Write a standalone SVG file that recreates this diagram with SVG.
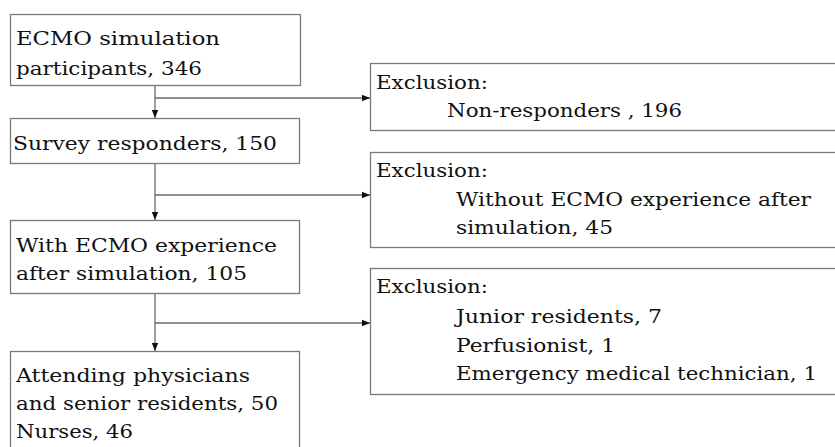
<svg xmlns="http://www.w3.org/2000/svg" width="835" height="447" viewBox="0 0 835 447">
<style>
.box{fill:#fff;stroke:#7a7a7a;stroke-width:1.3}
.t{font-family:"DejaVu Serif","Liberation Serif",serif;font-size:19px;fill:#111}
.c{fill:none;stroke:#6a6a6a;stroke-width:1.3}
</style>
<defs>
<marker id="ah" viewBox="0 0 8 8" refX="8" refY="4" markerWidth="8" markerHeight="8" markerUnits="userSpaceOnUse" orient="auto">
<path d="M0,0.8 L8,4 L0,7.2 z" fill="#111"/>
</marker>
</defs>
<g id="connectors">
<line class="c" x1="155" y1="85" x2="155" y2="118" marker-end="url(#ah)"/>
<line class="c" x1="155" y1="98" x2="370" y2="98" marker-end="url(#ah)"/>
<line class="c" x1="155" y1="163" x2="155" y2="220" marker-end="url(#ah)"/>
<line class="c" x1="155" y1="195" x2="370" y2="195" marker-end="url(#ah)"/>
<line class="c" x1="155" y1="293" x2="155" y2="351" marker-end="url(#ah)"/>
<line class="c" x1="155" y1="323" x2="370" y2="323" marker-end="url(#ah)"/>
</g>
<g id="n1">
<rect class="box" x="10.5" y="14.5" width="290" height="71"/>
<text class="t" x="16" y="45" textLength="204" lengthAdjust="spacingAndGlyphs">ECMO simulation</text>
<text class="t" x="16" y="75" textLength="186" lengthAdjust="spacingAndGlyphs">participants, 346</text>
</g>
<g id="n2">
<rect class="box" x="10.5" y="118.5" width="289" height="45"/>
<text class="t" x="13" y="150" textLength="264" lengthAdjust="spacingAndGlyphs">Survey responders, 150</text>
</g>
<g id="n3">
<rect class="box" x="10.5" y="220.5" width="289" height="73"/>
<text class="t" x="16" y="252" textLength="261" lengthAdjust="spacingAndGlyphs">With ECMO experience</text>
<text class="t" x="16" y="280" textLength="231" lengthAdjust="spacingAndGlyphs">after simulation, 105</text>
</g>
<g id="n4">
<rect class="box" x="10.5" y="351.5" width="289" height="110"/>
<text class="t" x="16" y="382" textLength="234" lengthAdjust="spacingAndGlyphs">Attending physicians</text>
<text class="t" x="16" y="410" textLength="262" lengthAdjust="spacingAndGlyphs">and senior residents, 50</text>
<text class="t" x="16" y="438" textLength="117" lengthAdjust="spacingAndGlyphs">Nurses, 46</text>
</g>
<g id="ex1">
<rect class="box" x="370.5" y="63.5" width="480" height="67"/>
<text class="t" x="376" y="89" textLength="112" lengthAdjust="spacingAndGlyphs">Exclusion:</text>
<text class="t" x="447" y="117" textLength="235" lengthAdjust="spacingAndGlyphs">Non-responders , 196</text>
</g>
<g id="ex2">
<rect class="box" x="370.5" y="152.5" width="480" height="95"/>
<text class="t" x="376" y="177" textLength="112" lengthAdjust="spacingAndGlyphs">Exclusion:</text>
<text class="t" x="456" y="206" textLength="355" lengthAdjust="spacingAndGlyphs">Without ECMO experience after</text>
<text class="t" x="456" y="234" textLength="157" lengthAdjust="spacingAndGlyphs">simulation, 45</text>
</g>
<g id="ex3">
<rect class="box" x="370.5" y="268.5" width="480" height="126"/>
<text class="t" x="376" y="293" textLength="112" lengthAdjust="spacingAndGlyphs">Exclusion:</text>
<text class="t" x="456" y="323" textLength="206" lengthAdjust="spacingAndGlyphs">Junior residents, 7</text>
<text class="t" x="456" y="352" textLength="159" lengthAdjust="spacingAndGlyphs">Perfusionist, 1</text>
<text class="t" x="456" y="380" textLength="361" lengthAdjust="spacingAndGlyphs">Emergency medical technician, 1</text>
</g>
</svg>
